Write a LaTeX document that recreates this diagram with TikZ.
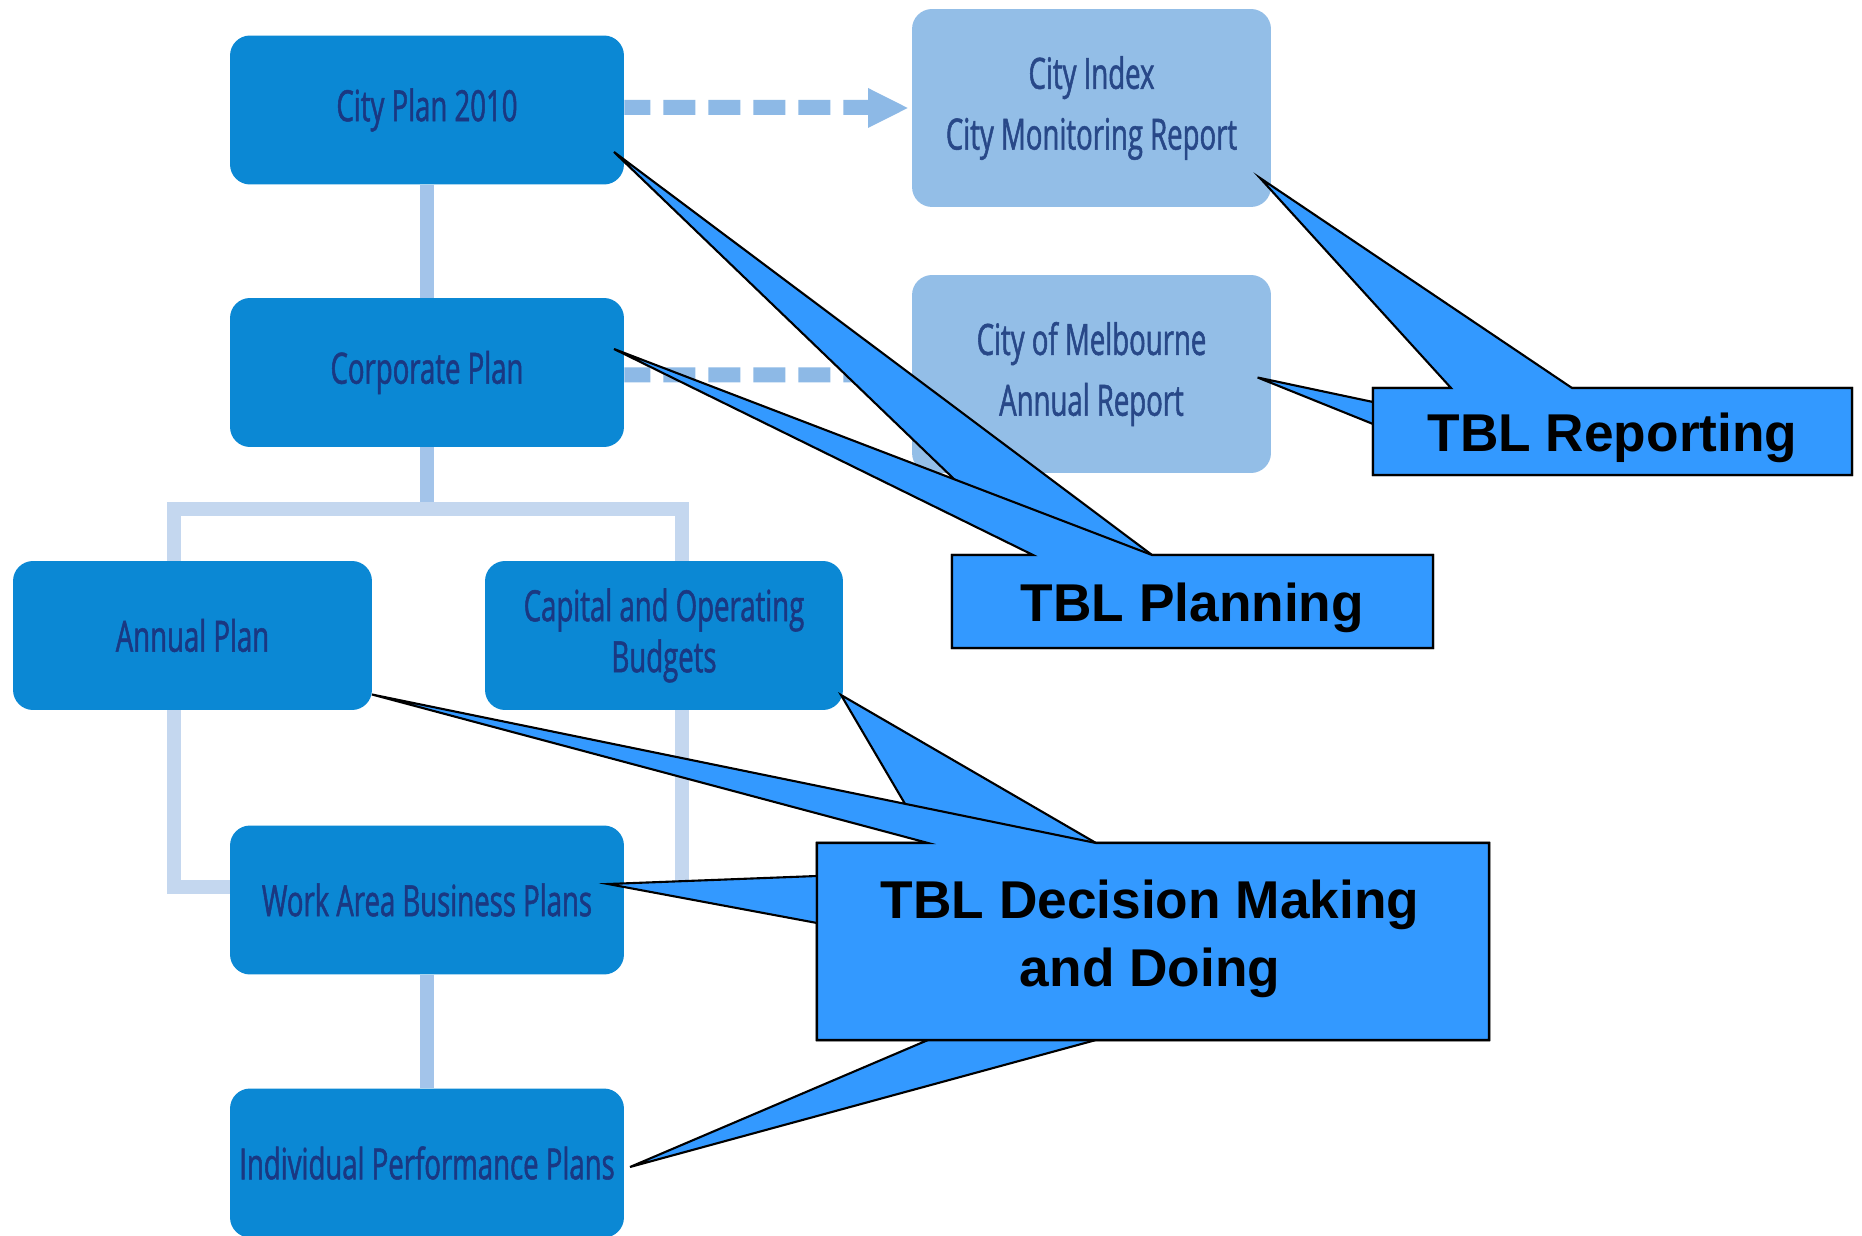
\documentclass[tikz,border=0pt]{standalone}
\usepackage{fontspec}
\usetikzlibrary{backgrounds}
\newfontfamily\calfont{Liberation Sans}
\newfontfamily\boxfont{Open Sans}[FakeStretch=0.64, FakeBold=1.2]
\definecolor{boxblue}{HTML}{0B88D4}
\definecolor{boxtext}{HTML}{1A3882}
\definecolor{lightfill}{HTML}{93BEE7}
\definecolor{lighttext}{HTML}{284888}
\definecolor{linkmid}{HTML}{A3C4EA}
\definecolor{linklight}{HTML}{C4D7EF}
\definecolor{dashblue}{HTML}{8DB9E6}
\definecolor{callblue}{HTML}{3399FF}
\pgfdeclarelayer{bottom}
\pgfsetlayers{bottom,background,main}
\tikzset{
  mainbox/.style={fill=boxblue, rounded corners=0.4cm, minimum width=7.88cm, minimum height=2.98cm,
    inner sep=0pt, text=boxtext, align=center, font=\boxfont\fontsize{24.5}{29}\selectfont},
  lightbox/.style={fill=lightfill, rounded corners=0.4cm, minimum width=7.18cm, minimum height=3.96cm,
    inner sep=0pt, text=lighttext, align=center, font=\boxfont\fontsize{24.5}{34.6}\selectfont},
  linkstem/.style={draw=linkmid, line width=0.28cm},
  linkbranch/.style={draw=linklight, line width=0.28cm, line join=miter},
  dashlink/.style={draw=dashblue, line width=0.3cm, dash pattern=on 0.64cm off 0.26cm, dash phase=0.12cm},
  dashhead/.style={fill=dashblue},
  callout/.style={fill=callblue, draw=black, line width=1.2pt},
  calltext/.style={text=black, align=center, inner sep=0pt, font=\calfont\bfseries\fontsize{30.3}{39}\selectfont}
}
\begin{document}
\begin{tikzpicture}[x=0.02cm, y=-0.02cm]
\useasboundingbox (0,0) rectangle (1862,1236);
\begin{pgfonlayer}{bottom}
\fill[white] (0,0) rectangle (1862,1236);
\end{pgfonlayer}

% boxes
\node[mainbox] (city) at (427,110) {City Plan 2010};
\node[mainbox] (corp) at (427,372.5) {Corporate Plan};
\node[mainbox, minimum width=7.18cm] (annual) at (192.5,635.5) {Annual Plan};
\node[mainbox, minimum width=7.16cm] (capital) at (664,635.5) {Capital and Operating\\Budgets};
\node[mainbox] (work) at (427,900) {Work Area Business Plans};
\node[mainbox] (indiv) at (427,1163) {Individual Performance Plans};
\node[lightbox] (index) at (1091.5,108) {City Index\\City Monitoring Report};
\node[lightbox] (melb) at (1091.5,374) {City of Melbourne\\Annual Report};

% connector coordinates
\coordinate (barM) at (427,509);
\coordinate (barL) at (174,509);
\coordinate (barR) at (682,509);
\coordinate (rightEnd) at (682,882);
\coordinate (head1) at (868,107.5);
\coordinate (head2) at (868,375);

\begin{pgfonlayer}{background}
\draw[linkstem] (city.south) -- (corp.north);
\draw[linkstem] (corp.south) -- (barM);
\draw[linkbranch] ([yshift=0.26cm]work.west) -| (barL) -- (barR) -- (rightEnd);
\draw[linkstem] (work.south) -- (indiv.north);
\draw[dashlink] ([yshift=0.05cm]city.east) -- (head1);
\draw[dashlink] ([yshift=-0.05cm]corp.east) -- (head2);
\fill[dashhead] (868,88) -- ([xshift=-0.08cm]index.west) -- (868,128) -- cycle;
\fill[dashhead] (868,355) -- ([xshift=-0.08cm]melb.west) -- (868,395) -- cycle;
\end{pgfonlayer}

% TBL Planning callouts
\filldraw[callout] (952,555) -- (1033,555) -- (614,152) -- (1152,555) -- (1433,555) -- (1433,648) -- (952,648) -- cycle;
\filldraw[callout] (952,555) -- (1033,555) -- (614,349) -- (1152,555) -- (1433,555) -- (1433,648) -- (952,648) -- cycle;
\node[calltext, anchor=base] (planning) at (1192.5,621) {TBL Planning};

% TBL Reporting callouts
\filldraw[callout] (1373,388) -- (1852,388) -- (1852,475) -- (1373,475) -- (1373,424) -- (1257.6,377.5) -- (1373,402) -- cycle;
\filldraw[callout] (1373,388) -- (1451,388) -- (1260,178) -- (1572,388) -- (1852,388) -- (1852,475) -- (1373,475) -- cycle;
\node[calltext, anchor=base] (reporting) at (1612.5,452) {TBL Reporting};

% TBL Decision callouts
\filldraw[callout] (817,843) -- (1489,843) -- (1489,1040) -- (1096,1040) -- (630,1167) -- (928,1040) -- (817,1040) -- cycle;
\filldraw[callout] (817,843) -- (1489,843) -- (1489,1040) -- (817,1040) -- (817,923) -- (608,884) -- (817,876) -- cycle;
\filldraw[callout] (817,843) -- (928,843) -- (841,695) -- (1096,843) -- (1489,843) -- (1489,1040) -- (817,1040) -- cycle;
\filldraw[callout] (817,843) -- (928,843) -- (372,694.5) -- (1096,843) -- (1489,843) -- (1489,1040) -- (817,1040) -- cycle;
\node[calltext] (decision) at (1150,939) {TBL Decision Making\\and Doing};
\end{tikzpicture}
\end{document}
